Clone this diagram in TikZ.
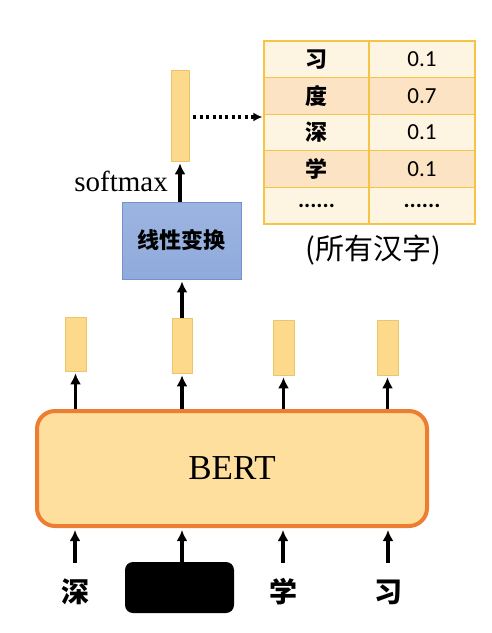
\documentclass[tikz,border=0pt]{standalone}
\usepackage{fontspec}
\setmainfont{Liberation Serif}
\newfontfamily\cjk{Noto Sans CJK SC}
\newfontfamily\numfont{Carlito}
\usepackage{xcolor}
\usetikzlibrary{arrows.meta}

\definecolor{bertfill}{HTML}{FFDF9E}
\definecolor{bertline}{HTML}{ED7D31}
\definecolor{vecfill}{HTML}{FCD98B}
\definecolor{vecline}{HTML}{EBC46C}
\definecolor{linfill}{HTML}{8FAADC}
\definecolor{linline}{HTML}{7690CC}
\definecolor{tabline}{HTML}{F6C444}
\definecolor{rowlight}{HTML}{FEF4E2}
\definecolor{rowdark}{HTML}{FCE3C3}
\newcommand\moredots{\numfont\bfseries\fontsize{23}{24}\selectfont......}

\begin{document}
\begin{tikzpicture}[x=1pt,y=-1pt]
\tikzset{vec/.style={draw=vecline,fill=vecfill,line width=0.6pt,inner sep=0pt}}
\tikzset{arr/.style={-{Latex[length=11pt,width=11pt]},line width=3.2pt,shorten >=2pt}}
\tikzset{cell/.style={draw=tabline,line width=1.2pt,minimum height=36.6pt,inner sep=0pt}}
\tikzset{word/.style={font=\cjk\bfseries\fontsize{28}{30}\selectfont,inner sep=0pt}}

\useasboundingbox[fill=white] (0,0) rectangle (492,633);

% BERT
\node[draw=bertline,line width=4pt,rounded corners=18pt,fill=bertfill,
  minimum width=390pt,minimum height=115pt,font=\fontsize{35}{40}\selectfont] (bert) at (232,468.5) {BERT};

% inputs
\node[word] (in1) at (75,592) {深};
\node[fill=black,rounded corners=8pt,minimum width=109pt,minimum height=51pt] (mask) at (179.5,587.5) {};
\node[word] (in3) at (283,592) {学};
\node[word] (in4) at (388,592) {习};

\draw[arr] ([yshift=29pt]in1.center) -- (in1 |- bert.south);
\draw[arr] (mask.north -| 182,0) -- (bert.south -| 182,0);
\draw[arr] ([yshift=29pt]in3.center) -- (in3 |- bert.south);
\draw[arr] ([yshift=29pt]in4.center) -- (in4 |- bert.south);

% outputs
\node[vec,minimum width=21pt,minimum height=54pt] (out1) at (75.5,344) {};
\node[vec,minimum width=20pt,minimum height=55pt] (out2) at (182,345.5) {};
\node[vec,minimum width=21pt,minimum height=55pt] (out3) at (283.5,347.5) {};
\node[vec,minimum width=21pt,minimum height=55pt] (out4) at (387.5,347.5) {};

\draw[arr] (out1 |- bert.north) -- (out1.south);
\draw[arr] (out2 |- bert.north) -- (out2.south);
\draw[arr] (out3 |- bert.north) -- (out3.south);
\draw[arr] (out4 |- bert.north) -- (out4.south);

% linear layer
\node[draw=linline,line width=0.8pt,top color=linfill!88!white,bottom color=linfill,
  minimum width=119pt,minimum height=77pt,font=\cjk\bfseries\fontsize{22}{26}\selectfont] (lin) at (181.5,240.5) {线性变换};
\draw[arr] (out2.north) -- (lin.south -| out2.north);

\node[vec,minimum width=18pt,minimum height=91pt] (prob) at (180,115.5) {};
\draw[arr] (lin.north -| prob.south) -- (prob.south);
\node[anchor=east,inner sep=0pt,font=\fontsize{29}{32}\selectfont] (softmax) at (168,181) {softmax};

% vocabulary table
\foreach \ch/\p/\c [count=\i] in {习/0.1/rowlight,度/0.7/rowdark,深/0.1/rowlight,学/0.1/rowdark,\moredots/\moredots/rowlight}{
  \node[cell,fill=\c,minimum width=105pt,font=\cjk\bfseries\fontsize{22}{24}\selectfont] (ch\i) at (316.5,{41+36.6*(\i-0.5)}) {\ch};
  \node[cell,fill=\c,minimum width=106pt,font=\numfont\fontsize{23}{24}\selectfont] (p\i) at (422,{41+36.6*(\i-0.5)}) {\p};
}
\draw[-{Latex[length=9pt,width=9pt]},line width=3.2pt,dash pattern=on 3pt off 3.4pt,shorten <=4pt,shorten >=1pt]
  ([yshift=-1.5pt]prob.east) -- ([yshift=-1.5pt]prob.east -| ch1.west);

\node[font=\cjk\fontsize{29}{32}\selectfont,inner sep=0pt] (vocab) at (373,250) {(所有汉字)};

\end{tikzpicture}
\end{document}
